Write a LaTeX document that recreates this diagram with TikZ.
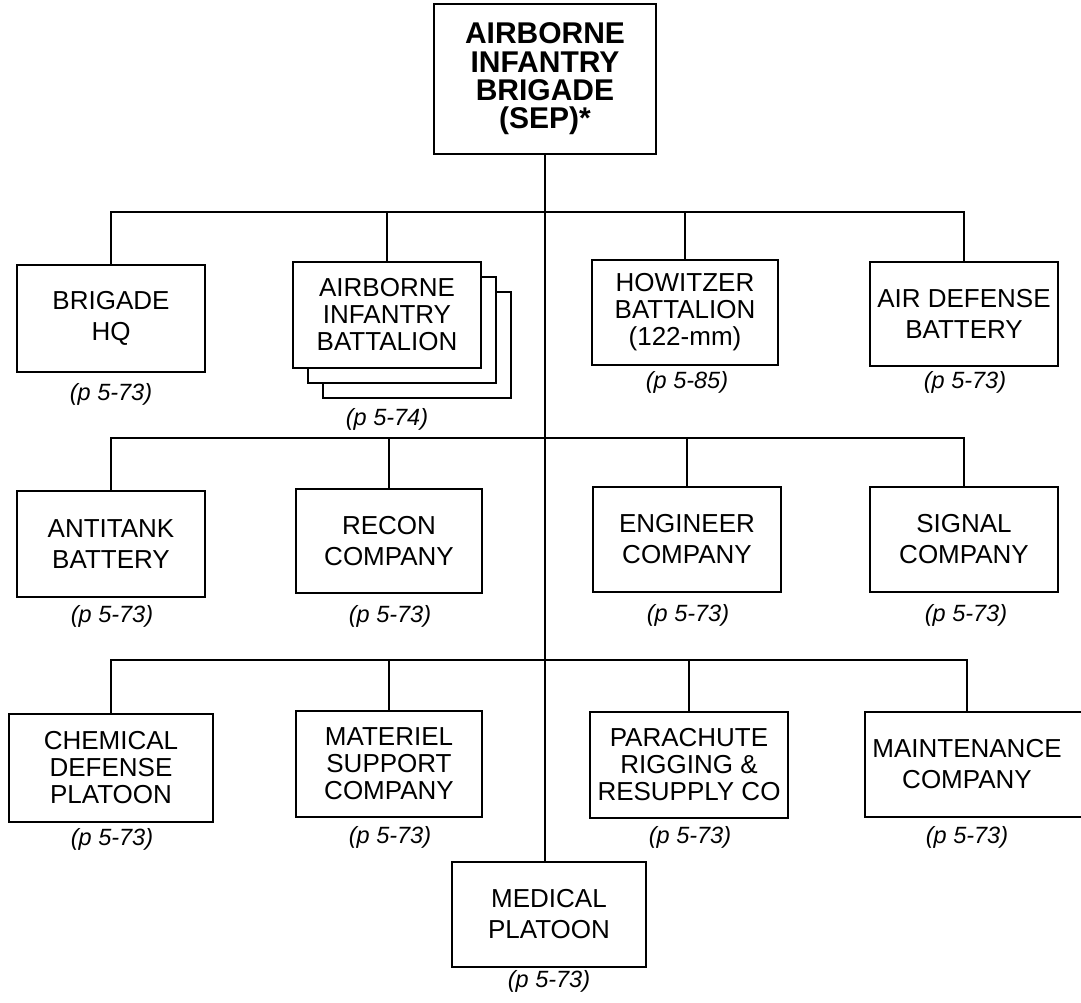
\documentclass[tikz,border=0pt]{standalone}
\usepackage{fontspec}
\setmainfont{Liberation Sans}
\begin{document}
\begin{tikzpicture}[x=1pt,y=-1pt,
  box/.style={draw, line width=2.8pt, fill=white, rectangle, align=center, inner sep=0pt,
    font=\fontsize{26}{31}\selectfont},
  box3/.style={box, font=\fontsize{26}{27}\selectfont},
  titlebox/.style={box, font=\bfseries\fontsize{30}{28.3}\selectfont},
  lbl/.style={anchor=base, inner sep=0pt, font=\itshape\fontsize{23.5}{24}\selectfont},
  conn/.style={line width=2.4pt, line cap=rect, line join=miter}]
\useasboundingbox (0,0) rectangle (1081,1002);
\fill[white] (0,0) rectangle (1081,1002);

% top
\node[titlebox, minimum width=222pt, minimum height=150pt] (top) at (545,79) {AIRBORNE\\INFANTRY\\BRIGADE\\(SEP)*};

% row 1
\node[box, minimum width=188pt, minimum height=107pt] (hq) at (111,318.5) {BRIGADE\\HQ};
\node[box, minimum width=188pt, minimum height=106pt] (bat3) at (417,345) {};
\node[box, minimum width=188pt, minimum height=106pt] (bat2) at (402,330) {};
\node[box3, minimum width=188pt, minimum height=106pt] (bat) at (387,315) {AIRBORNE\\INFANTRY\\BATTALION};
\node[box3, minimum width=186pt, minimum height=105pt] (how) at (685,312.5) {HOWITZER\\BATTALION\\(122-mm)};
\node[box, minimum width=188pt, minimum height=104pt] (ad) at (964,314) {AIR DEFENSE\\BATTERY};

% row 2
\node[box, minimum width=188pt, minimum height=106pt] (at) at (111,544) {ANTITANK\\BATTERY};
\node[box, minimum width=186pt, minimum height=104pt] (rc) at (389,541) {RECON\\COMPANY};
\node[box, minimum width=188pt, minimum height=105pt] (en) at (687,539.5) {ENGINEER\\COMPANY};
\node[box, minimum width=188pt, minimum height=105pt] (sg) at (964,539.5) {SIGNAL\\COMPANY};

% row 3
\node[box3, minimum width=204pt, minimum height=108pt] (ch) at (111,768) {CHEMICAL\\DEFENSE\\PLATOON};
\node[box3, minimum width=186pt, minimum height=106pt] (ms) at (389,764) {MATERIEL\\SUPPORT\\COMPANY};
\node[box3, minimum width=198pt, minimum height=106pt] (pr) at (689,765) {PARACHUTE\\RIGGING \&\\RESUPPLY CO};
\node[box, minimum width=220pt, minimum height=105pt] (mt) at (975,764.5) {\hspace*{-16pt}MAINTENANCE\\\hspace*{-16pt}COMPANY};

% medical
\node[box, minimum width=194pt, minimum height=105pt] (med) at (549,914.5) {MEDICAL\\PLATOON};

% labels
\node[lbl] (hql) at (111,400) {(p 5-73)};
\node[lbl] (batl) at (387,425) {(p 5-74)};
\node[lbl] (howl) at (687,388) {(p 5-85)};
\node[lbl] (adl) at (965,388) {(p 5-73)};
\node[lbl] (atl) at (112,622) {(p 5-73)};
\node[lbl] (rcl) at (390,622) {(p 5-73)};
\node[lbl] (enl) at (688,621) {(p 5-73)};
\node[lbl] (sgl) at (966,621) {(p 5-73)};
\node[lbl] (chl) at (112,845) {(p 5-73)};
\node[lbl] (msl) at (390,843) {(p 5-73)};
\node[lbl] (prl) at (690,843) {(p 5-73)};
\node[lbl] (mtl) at (967,843) {(p 5-73)};
\node[lbl] (medl) at (549,987) {(p 5-73)};

% bus coordinates
\coordinate (b1) at (545,212);
\coordinate (b2) at (545,438);
\coordinate (b3) at (545,660);

% connectors
\draw[conn] (top.south) -- (top.south |- med.north);
\draw[conn] (hq.north) |- (b1) -| (ad.north);
\draw[conn] (bat.north) -- (bat.north |- b1);
\draw[conn] (how.north) -- (how.north |- b1);
\draw[conn] (at.north) |- (b2) -| (sg.north);
\draw[conn] (rc.north) -- (rc.north |- b2);
\draw[conn] (en.north) -- (en.north |- b2);
\draw[conn] (ch.north) |- (b3) -| (mt.north -| 967,0);
\draw[conn] (ms.north) -- (ms.north |- b3);
\draw[conn] (pr.north) -- (pr.north |- b3);
\end{tikzpicture}
\end{document}
